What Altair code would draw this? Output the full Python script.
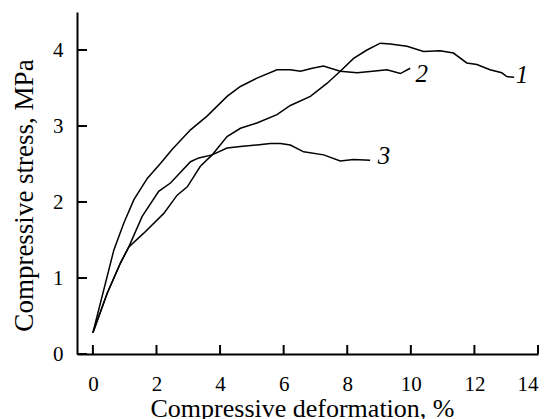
import altair as alt
import pandas as pd

# Curve 1
c1_x = [0, 0.45, 0.87, 1.13, 1.6, 2.23, 2.65, 2.97, 3.38, 3.75, 4.22, 4.64, 5.16, 5.79, 6.21,
        6.84, 7.36, 7.78, 8.2, 8.62, 9.04, 9.35, 9.88, 10.4, 10.92, 11.34, 11.76, 12.08, 12.49,
        12.86, 13.02, 13.25]
c1_y = [0.28, 0.80, 1.20, 1.41, 1.59, 1.85, 2.09, 2.20, 2.47, 2.62, 2.86, 2.97, 3.04, 3.15, 3.27,
        3.39, 3.56, 3.72, 3.89, 4.00, 4.09, 4.08, 4.05, 3.98, 3.99, 3.96, 3.83, 3.81, 3.74,
        3.70, 3.65, 3.64]
# Curve 2
c2_x = [0, 0.66, 0.97, 1.29, 1.71, 2.13, 2.49, 3.07, 3.59, 4.22, 4.64, 5.16, 5.79, 6.21, 6.53,
        6.9, 7.25, 7.78, 8.31, 8.8, 9.25, 9.67, 9.98]
c2_y = [0.28, 1.37, 1.72, 2.03, 2.31, 2.51, 2.69, 2.95, 3.13, 3.39, 3.52, 3.63, 3.74, 3.74, 3.72,
        3.76, 3.79, 3.72, 3.70, 3.72, 3.74, 3.69, 3.76]
# Curve 3
c3_x = [0, 0.45, 0.87, 1.13, 1.55, 2.07, 2.44, 3.07, 3.33, 3.75, 4.22, 4.64, 5.16, 5.58, 5.9,
        6.21, 6.63, 7.26, 7.78, 8.2, 8.72]
c3_y = [0.28, 0.80, 1.20, 1.41, 1.81, 2.14, 2.25, 2.53, 2.58, 2.62, 2.71, 2.73, 2.75, 2.77, 2.77,
        2.75, 2.66, 2.62, 2.54, 2.56, 2.55]

label_text = ["1", "2", "3"]
label_x = [13.5, 10.34, 9.16]
label_y = [3.67, 3.68, 2.6]

x_ticks = [0, 2, 4, 6, 8, 10, 12, 14]
y_ticks = [0, 1, 2, 3, 4]

rows = []
for name, xs_, ys_ in [("1", c1_x, c1_y), ("2", c2_x, c2_y), ("3", c3_x, c3_y)]:
    for i, (a, b) in enumerate(zip(xs_, ys_)):
        rows.append({"curve": name, "order": i, "x": a, "y": b})
df = pd.DataFrame(rows)
lab = pd.DataFrame({"t": label_text, "x": label_x, "y": label_y})
xt = pd.DataFrame({"x": x_ticks})
yt = pd.DataFrame({"y": y_ticks})

FONT = "Liberation Serif"
W, H = 461, 342
xs = alt.Scale(domain=[-0.5, 14], nice=False, zero=False)
ys = alt.Scale(domain=[0, 4.5], nice=False, zero=False)

x_axis = alt.Axis(
    values=x_ticks, title="Compressive deformation, %", grid=False, tickSize=0,
    domainColor="black", domainWidth=2, labelFont=FONT, labelFontSize=21,
    labelColor="black", labelPadding=19, titleFont=FONT, titleFontSize=26,
    titleFontWeight="normal", titleColor="black", titleBaseline="alphabetic",
    titleY=62, titleX=225)
y_axis = alt.Axis(
    values=y_ticks, title="Compressive stress, MPa", grid=False, tickSize=0,
    domainColor="black", domainWidth=2, labelFont=FONT, labelFontSize=21,
    labelColor="black", labelPadding=14, titleFont=FONT, titleFontSize=27,
    titleFontWeight="normal", titleColor="black", titleBaseline="alphabetic",
    titleX=-45, titleY=183)

X = alt.X("x:Q", scale=xs, axis=x_axis, title="Compressive deformation, %")
Y = alt.Y("y:Q", scale=ys, axis=y_axis, title="Compressive stress, MPa")

lines = alt.Chart(df).mark_line(color="black", strokeWidth=1.5).encode(
    x=X, y=Y, detail="curve:N", order="order:Q",
)

labels = alt.Chart(lab).mark_text(font=FONT, fontSize=25, fontStyle="italic", color="black",
                                  align="center", baseline="middle").encode(
    x=X, y=Y, text="t:N",
)

xtick = alt.Chart(xt).mark_rule(color="black", strokeWidth=2).encode(
    x=X, y=alt.value(H), y2=alt.value(H - 9),
)
ytick = alt.Chart(yt).mark_rule(color="black", strokeWidth=2).encode(
    y=Y, x=alt.value(0), x2=alt.value(10),
)

chart = alt.layer(lines, labels, xtick, ytick).properties(
    width=W, height=H,
    autosize=alt.AutoSizeParams(type="none"),
    padding={"left": 69, "top": 4, "right": 8, "bottom": 72},
    background="white",
).configure_view(stroke=None)

chart.save("out.html", embed_options={"renderer": "svg", "actions": False})
